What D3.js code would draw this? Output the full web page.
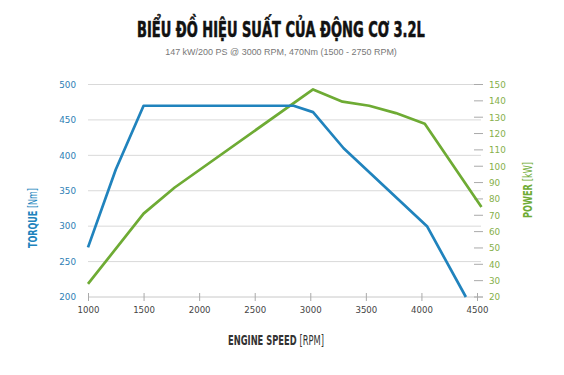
<!DOCTYPE html>
<html><head><meta charset="utf-8">
<script src="https://cdn.jsdelivr.net/npm/d3@7"></script>
<style>body{margin:0;background:#fff}svg{display:block}</style>
</head><body>
<svg id="c" width="564" height="375"></svg>
<script>
const titleText = "BIỂU ĐỒ HIỆU SUẤT CỦA ĐỘNG CƠ 3.2L";
const subtitleText = "147 kW/200 PS @ 3000 RPM, 470Nm (1500 - 2750 RPM)";
const rpmTicks = [1000,1500,2000,2500,3000,3500,4000,4500];
const torqueTicks = [200,250,300,350,400,450,500];
const powerTicks = [20,30,40,50,60,70,80,90,100,110,120,130,140,150];
const torqueRpm = [1000,1250,1500,2850,3025,3300,4050,4400];
const torqueVal = [270,380,470,470,461,410,300,200];
const powerRpm = [1000,1500,1780,3025,3290,3530,3770,4030,4540];
const powerVal = [28,71,87,147,139.5,137,132.5,126,75];

const blue = "#2083bd", green = "#6eab34";
const svg = d3.select("#c");
const x = d3.scaleLinear().domain([1000,4500]).range([88,477]);
const yL = d3.scaleLinear().domain([200,500]).range([297,84.5]);
const yR = d3.scaleLinear().domain([20,150]).range([297,84.5]);

// text squeezed horizontally (in its own frame) to a target length
function squeeze(sel, cx, cy, rot, target){
  const w = sel.node().getComputedTextLength();
  sel.attr("x",0).attr("y",0)
     .attr("transform",`translate(${cx},${cy}) rotate(${rot}) scale(${target/w},1)`);
}

// title
const ti = svg.append("text").attr("text-anchor","middle")
  .attr("font-family","DejaVu Sans Condensed, DejaVu Sans").attr("font-weight","bold")
  .attr("font-size",21.5).attr("fill","#111").attr("stroke","#111").attr("stroke-width",0.6)
  .text(titleText);
squeeze(ti,281,37,0,288);
const st = svg.append("text").attr("text-anchor","middle")
  .attr("font-family","Liberation Sans, Arial").attr("font-size",9).attr("fill","#777").text(subtitleText);
squeeze(st,281,55,0,232);

// gridlines
svg.append("g").selectAll("line").data(torqueTicks.filter(d=>d>200)).join("line")
  .attr("x1",88).attr("x2",481).attr("y1",d=>yL(d)).attr("y2",d=>yL(d))
  .attr("stroke","#d9d9d9").attr("stroke-width",1);

// x axis
const gx = svg.append("g").attr("transform","translate(0,297)")
  .call(d3.axisBottom(x).tickValues(rpmTicks).tickFormat(d3.format("d")).tickSizeInner(4).tickSizeOuter(0).tickPadding(6));
gx.select(".domain").attr("stroke","#c8c8c8").attr("d","M88,0H483");
gx.selectAll(".tick line").attr("stroke","#aaa").attr("y1",-4).attr("y2",4);
gx.selectAll(".tick text").attr("font-family","DejaVu Sans").attr("font-size",8.6).attr("fill","#444");

// left axis
const gl = svg.append("g").attr("transform","translate(88,0)")
  .call(d3.axisLeft(yL).tickValues(torqueTicks).tickSize(0).tickPadding(12));
gl.select(".domain").remove();
gl.selectAll(".tick text").attr("font-family","DejaVu Sans").attr("font-size",8.8).attr("fill","#2e80b5");

// right axis
const gr = svg.append("g").attr("transform","translate(483,0)")
  .call(d3.axisRight(yR).tickValues(powerTicks).tickSize(0).tickPadding(6));
gr.select(".domain").remove();
gr.selectAll(".tick text").attr("font-family","DejaVu Sans").attr("font-size",8.8).attr("fill","#86b04a");
svg.append("g").selectAll("line").data(powerTicks).join("line")
  .attr("x1",474).attr("x2",483).attr("y1",d=>yR(d)).attr("y2",d=>yR(d))
  .attr("stroke","#aaa").attr("stroke-width",1);

// lines
const tData = torqueRpm.map((r,i)=>[r,torqueVal[i]]);
const pData = powerRpm.map((r,i)=>[r,powerVal[i]]);
svg.append("path").datum(pData).attr("fill","none").attr("stroke",green).attr("stroke-width",2.7)
  .attr("stroke-linejoin","round").attr("d",d3.line().x(d=>x(d[0])).y(d=>yR(d[1])));
svg.append("path").datum(tData).attr("fill","none").attr("stroke",blue).attr("stroke-width",2.7)
  .attr("stroke-linejoin","round").attr("d",d3.line().x(d=>x(d[0])).y(d=>yL(d[1])));

// axis titles
const cf = "DejaVu Sans Condensed, DejaVu Sans";
const tt = svg.append("text").attr("text-anchor","middle")
  .attr("font-family",cf).attr("font-size",12).attr("fill",blue);
tt.append("tspan").attr("font-weight","bold").text("TORQUE ");
tt.append("tspan").text("[Nm]");
squeeze(tt,37,218,-90,60);
const pt = svg.append("text").attr("text-anchor","middle")
  .attr("font-family",cf).attr("font-size",12).attr("fill",green);
pt.append("tspan").attr("font-weight","bold").text("POWER ");
pt.append("tspan").text("[kW]");
squeeze(pt,532,190,-90,56);
const xt = svg.append("text").attr("text-anchor","middle")
  .attr("font-family",cf).attr("font-size",13.5).attr("fill","#333");
xt.append("tspan").attr("font-weight","bold").text("ENGINE SPEED ");
xt.append("tspan").text("[RPM]");
squeeze(xt,276,345,0,96);
</script>
</body></html>
